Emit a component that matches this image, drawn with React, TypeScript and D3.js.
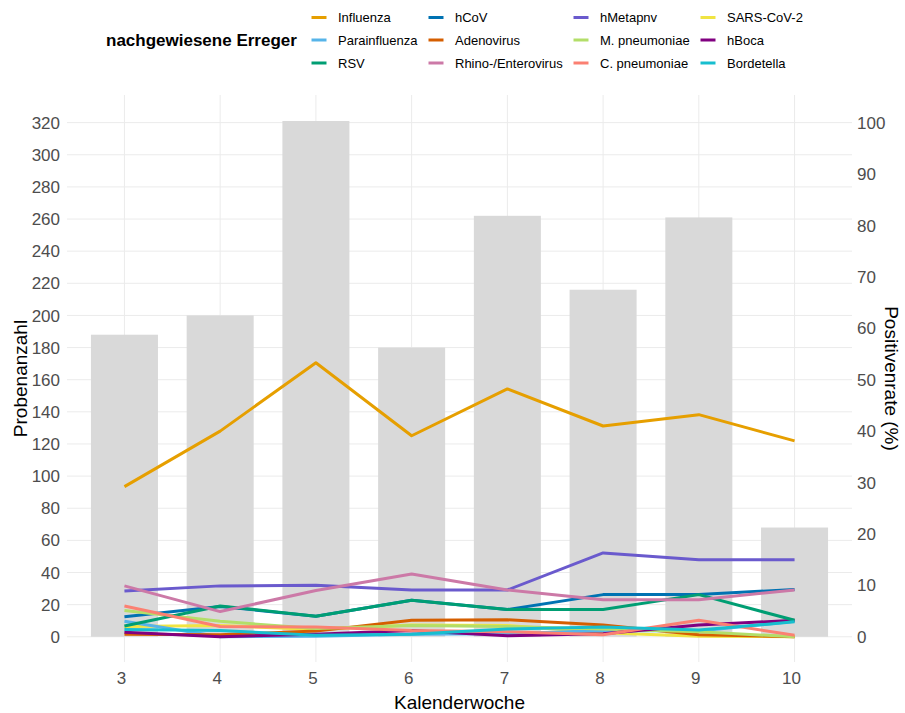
import * as d3 from 'd3';
import React from 'react';

const WIDTH = 905;
const HEIGHT = 713;
const PANEL = { left: 67, right: 852, top: 95, bottom: 662 };
const FONT = "'Liberation Sans', Arial, Helvetica, sans-serif";

// Kalenderwochen and number of samples per week (bars, left axis)
const weeks = [3, 4, 5, 6, 7, 8, 9, 10];
const samples = [188, 200, 321, 180, 262, 216, 261, 68];

// Positivenrate (%) per pathogen (lines, right axis)
const influenza = [29.2, 40.0, 53.3, 39.1, 48.2, 41.0, 43.2, 38.1];
const parainfluenza = [3.0, 0, 0.1, 0.5, 0.6, 1.2, 1.1, 3.0];
const rsv = [2.1, 6.0, 4.0, 7.1, 5.3, 5.3, 8.2, 3.2];
const hcov = [3.9, 5.9, 4.0, 7.1, 5.3, 8.2, 8.2, 9.2];
const adenovirus = [0.5, 0.4, 1.1, 3.2, 3.3, 2.3, 0.4, 0];
const rhino = [9.9, 4.9, 9.0, 12.2, 9.1, 7.2, 7.2, 9.1];
const hmetapnv = [8.9, 9.9, 10.0, 9.1, 9.1, 16.3, 15.0, 15.0];
const mPneumoniae = [5.1, 3.0, 1.6, 2.2, 2.0, 1.5, 1.0, 0];
const cPneumoniae = [6.0, 2.0, 1.9, 1.2, 1.0, 0.4, 3.2, 0.3];
const sarsCov2 = [2.0, 2.2, 1.4, 2.3, 2.2, 0.8, 0.1, 0];
const hboca = [0.9, 0, 0.5, 1.2, 0.2, 0.6, 2.3, 3.2];
const bordetella = [1.4, 1.2, 0.3, 0.5, 1.5, 1.9, 1.3, 2.9];

const leftTicks = d3.range(0, 321, 20);
const rightTicks = d3.range(0, 101, 10);
const RATIO = 3.2; // 100 % on the right axis == 320 samples on the left

// legend order (column by column, 3 rows)
const series = [
  { name: 'Influenza', color: '#E69F00', values: influenza },
  { name: 'Parainfluenza', color: '#56B4E9', values: parainfluenza },
  { name: 'RSV', color: '#009E73', values: rsv },
  { name: 'hCoV', color: '#0072B2', values: hcov },
  { name: 'Adenovirus', color: '#D55E00', values: adenovirus },
  { name: 'Rhino-/Enterovirus', color: '#CC79A7', values: rhino },
  { name: 'hMetapnv', color: '#6A5ACD', values: hmetapnv },
  { name: 'M. pneumoniae', color: '#B3DE69', values: mPneumoniae },
  { name: 'C. pneumoniae', color: '#FB8072', values: cPneumoniae },
  { name: 'SARS-CoV-2', color: '#F0E442', values: sarsCov2 },
  { name: 'hBoca', color: '#800080', values: hboca },
  { name: 'Bordetella', color: '#17BECF', values: bordetella },
];

// lines are drawn row by row of the legend
const drawOrder = [0, 3, 6, 9, 1, 4, 7, 10, 2, 5, 8, 11];

const legendCols = [338, 455, 600, 727];
const legendRows = [17.5, 40, 63];

export default function App() {
  const x = d3.scaleLinear().domain([2.4, 10.6]).range([PANEL.left, PANEL.right]);
  const y = d3.scaleLinear().domain([-15.7, 337.2]).range([PANEL.bottom, PANEL.top]);
  const barWidth = x(3.35) - x(2.65);

  const line = d3
    .line<number>()
    .x((_, i) => x(weeks[i]))
    .y(d => y(d * RATIO));

  return (
    <div style={{ position: 'fixed', left: 0, top: 0 }}>
      <svg width={WIDTH} height={HEIGHT} style={{ display: 'block', fontFamily: FONT }}>
        <rect width={WIDTH} height={HEIGHT} fill="white" />

        {/* grid */}
        {leftTicks.map(t => (
          <line key={'h' + t} x1={PANEL.left} x2={PANEL.right} y1={y(t)} y2={y(t)} stroke="#ebebeb" strokeWidth={1} />
        ))}
        {weeks.map(w => (
          <line key={'v' + w} x1={x(w)} x2={x(w)} y1={PANEL.top} y2={PANEL.bottom} stroke="#ebebeb" strokeWidth={1} />
        ))}

        {/* bars */}
        {weeks.map((w, i) => (
          <rect
            key={'b' + w}
            x={x(w) - barWidth / 2}
            y={y(samples[i])}
            width={barWidth}
            height={y(0) - y(samples[i])}
            fill="#d9d9d9"
          />
        ))}

        {/* lines */}
        {drawOrder.map(k => (
          <path
            key={series[k].name}
            d={line(series[k].values) ?? ''}
            fill="none"
            stroke={series[k].color}
            strokeWidth={3}
            strokeLinejoin="round"
          />
        ))}

        {/* left axis */}
        {leftTicks.map(t => (
          <text key={'lt' + t} x={60} y={y(t)} dy="0.36em" textAnchor="end" fontSize={17} fill="#4d4d4d">
            {t}
          </text>
        ))}
        {/* right axis */}
        {rightTicks.map(t => (
          <text key={'rt' + t} x={857} y={y(t * RATIO)} dy="0.36em" textAnchor="start" fontSize={17} fill="#4d4d4d">
            {t}
          </text>
        ))}
        {/* bottom axis */}
        {weeks.map(w => (
          <text key={'bt' + w} x={x(w) - 3} y={678} dy="0.36em" textAnchor="middle" fontSize={17} fill="#4d4d4d">
            {w}
          </text>
        ))}

        <text x={(PANEL.left + PANEL.right) / 2} y={702} dy="0.36em" textAnchor="middle" fontSize={19} fill="black">
          Kalenderwoche
        </text>
        <text
          transform={`translate(20,${(PANEL.top + PANEL.bottom) / 2}) rotate(-90)`}
          dy="0.36em"
          textAnchor="middle"
          fontSize={19}
          fill="black"
        >
          Probenanzahl
        </text>
        <text
          transform={`translate(892,${(PANEL.top + PANEL.bottom) / 2}) rotate(90)`}
          dy="0.36em"
          textAnchor="middle"
          fontSize={19}
          fill="black"
        >
          Positivenrate (%)
        </text>

        {/* legend */}
        <text x={106} y={40} dy="0.36em" fontSize={17} fontWeight="bold" fill="black">
          nachgewiesene Erreger
        </text>
        {series.map((s, i) => {
          const col = Math.floor(i / 3);
          const row = i % 3;
          const tx = legendCols[col];
          const ty = legendRows[row];
          return (
            <g key={'lg' + s.name}>
              <line x1={tx - 26.5} x2={tx - 11.5} y1={ty} y2={ty} stroke={s.color} strokeWidth={3} />
              <text x={tx} y={ty} dy="0.36em" fontSize={13} fill="black">
                {s.name}
              </text>
            </g>
          );
        })}
      </svg>
    </div>
  );
}
